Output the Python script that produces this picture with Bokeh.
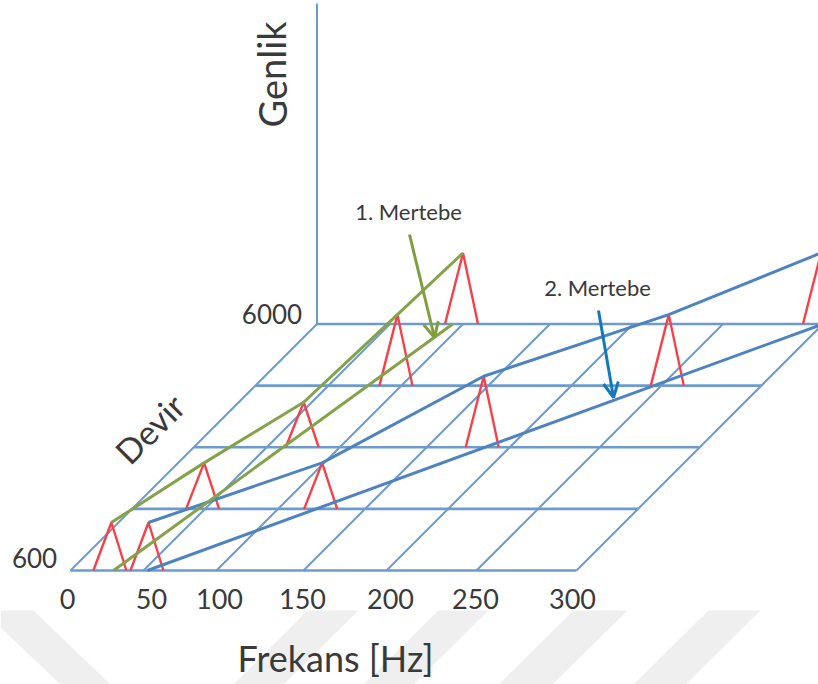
import numpy as np
from bokeh.plotting import figure
from bokeh.models import Range1d, Arrow, OpenHead
from bokeh.core.properties import value
from bokeh.embed import file_html
from bokeh.resources import INLINE

# ---- values ----
freq_ticks = [0, 50, 100, 150, 200, 250, 300]
freq_labels = ["0", "50", "100", "150", "200", "250", "300"]
rpm_rows = [600, 1950, 3300, 4650, 6000]

order1_hz = [28, 49.3, 75.3, 97.3, 100]
order1_amp = [48, 46, 45, 71, 71]
order2_hz = [53.4, 125.3, 184.3, 253.7, 299]
order2_amp = [48, 46, 71, 71, 71]
order1_floor_hz = [29.5, 93]
order2_floor_hz = [52.7, 300]
floor_rpm = [600, 6000]

# ---- layout of the hand-drawn perspective (page pixels) ----
tick_offset = [0, 73, 146, 233, 316, 406, 506]
label_px = [67, 151, 219, 302, 390, 475, 572]
X0, Y0, DEPTH = 70, 570, 246.5
PEAK_LEFT, PEAK_RIGHT = 18, 15
BLUE, STRONG, GREEN, RED = "#6d9bd0", "#4f83bf", "#84a24a", "#f8404a"
INK = "#3a3a3a"
FONT = value("Lato")


def px(hz, rpm, amp=0.0):
    hz = np.asarray(hz, float)
    t = (np.asarray(rpm, float) - 600) / 5400
    off = np.interp(hz, freq_ticks + [350], tick_offset + [600])
    return X0 + off + DEPTH * t, Y0 - DEPTH * t - np.asarray(amp, float)


p = figure(width=818, height=684, output_backend="svg", toolbar_location=None,
           x_range=Range1d(0, 818), y_range=Range1d(684, 0), min_border=0,
           outline_line_color=None, background_fill_color="white")
p.axis.visible = False
p.grid.visible = False

# watermark bands at the foot of the page
wm_x = [[0, 33, 110, 60, 0], [307, 358, 283, 233], [438, 488, 413, 363],
        [573, 627, 552, 498], [708, 760, 685, 633]]
wm_y = [[610, 610, 684, 684, 627], [610, 610, 684, 684], [610, 610, 684, 684],
        [610, 610, 684, 684], [610, 610, 684, 684]]
p.patches(wm_x, wm_y, fill_color="#efefef", line_color=None)

# floor grid
row_x0, row_y0 = [], []
for r in rpm_rows:
    x, y = px([0, 300], [r, r])
    row_x0.append(list(x)); row_y0.append(list(y))
p.multi_line(row_x0, row_y0, line_color=BLUE, line_width=2.6)
col_x, col_y = [], []
for f in freq_ticks:
    x, y = px([f, f], [600, 6000])
    col_x.append(list(x)); col_y.append(list(y))
p.multi_line(col_x, col_y, line_color=BLUE, line_width=2)

# amplitude axis
gx, gy0 = px(0, 6000)
p.line([gx, gx], [gy0, 3], line_color=BLUE, line_width=2)

# red peaks
for hz_list, amp_list in ((order1_hz, order1_amp), (order2_hz, order2_amp)):
    for hz, r, a in zip(hz_list, rpm_rows, amp_list):
        bx, by = px(hz, r)
        _, ty = px(hz, r, a)
        p.line([bx - PEAK_LEFT, bx, bx + PEAK_RIGHT], [by, ty, by], line_color=RED, line_width=2.4)

# order lines
x, y = px(order2_floor_hz, floor_rpm)
p.line(x, y, line_color=STRONG, line_width=3)
x, y = px(order2_hz, rpm_rows, order2_amp)
p.line(x, y, line_color=STRONG, line_width=3)
x, y = px(order1_floor_hz, floor_rpm)
p.line(x, y, line_color=GREEN, line_width=3)
x, y = px(order1_hz, rpm_rows, order1_amp)
p.line(x, y, line_color=GREEN, line_width=3)

# arrows
p.add_layout(Arrow(end=OpenHead(size=15, line_color="#7f9f3f", line_width=3),
                   x_start=409, y_start=234, x_end=434, y_end=337,
                   line_color="#7f9f3f", line_width=3))
p.add_layout(Arrow(end=OpenHead(size=15, line_color="#1478bd", line_width=3),
                   x_start=598, y_start=310, x_end=613, y_end=397,
                   line_color="#1478bd", line_width=3))

# texts
p.text(label_px, [598] * 7, text=freq_labels, text_font=FONT, text_font_size="27px",
       text_color=INK, text_align="center", text_baseline="middle")
p.text([34, 271.5], [557, 313], text=["600", "6000"], text_font=FONT, text_font_size="26px",
       text_color=INK, text_align="center", text_baseline="middle")
p.text([271], [74], text=["Genlik"], angle=[np.pi / 2], text_font=FONT, text_font_size="38px",
       text_color=INK, text_align="center", text_baseline="middle")
p.text([149], [428], text=["Devir"], angle=[np.pi / 4], text_font=FONT, text_font_size="34px",
       text_color=INK, text_align="center", text_baseline="middle")
p.text([408, 597], [211, 287], text=["1. Mertebe", "2. Mertebe"], text_font=FONT,
       text_font_size="22px", text_color=INK, text_align="center", text_baseline="middle")
p.text([335], [657], text=["Frekans [Hz]"], text_font=FONT, text_font_size="36px",
       text_color=INK, text_align="center", text_baseline="middle")

open("out.html", "w").write(file_html(p, INLINE))
